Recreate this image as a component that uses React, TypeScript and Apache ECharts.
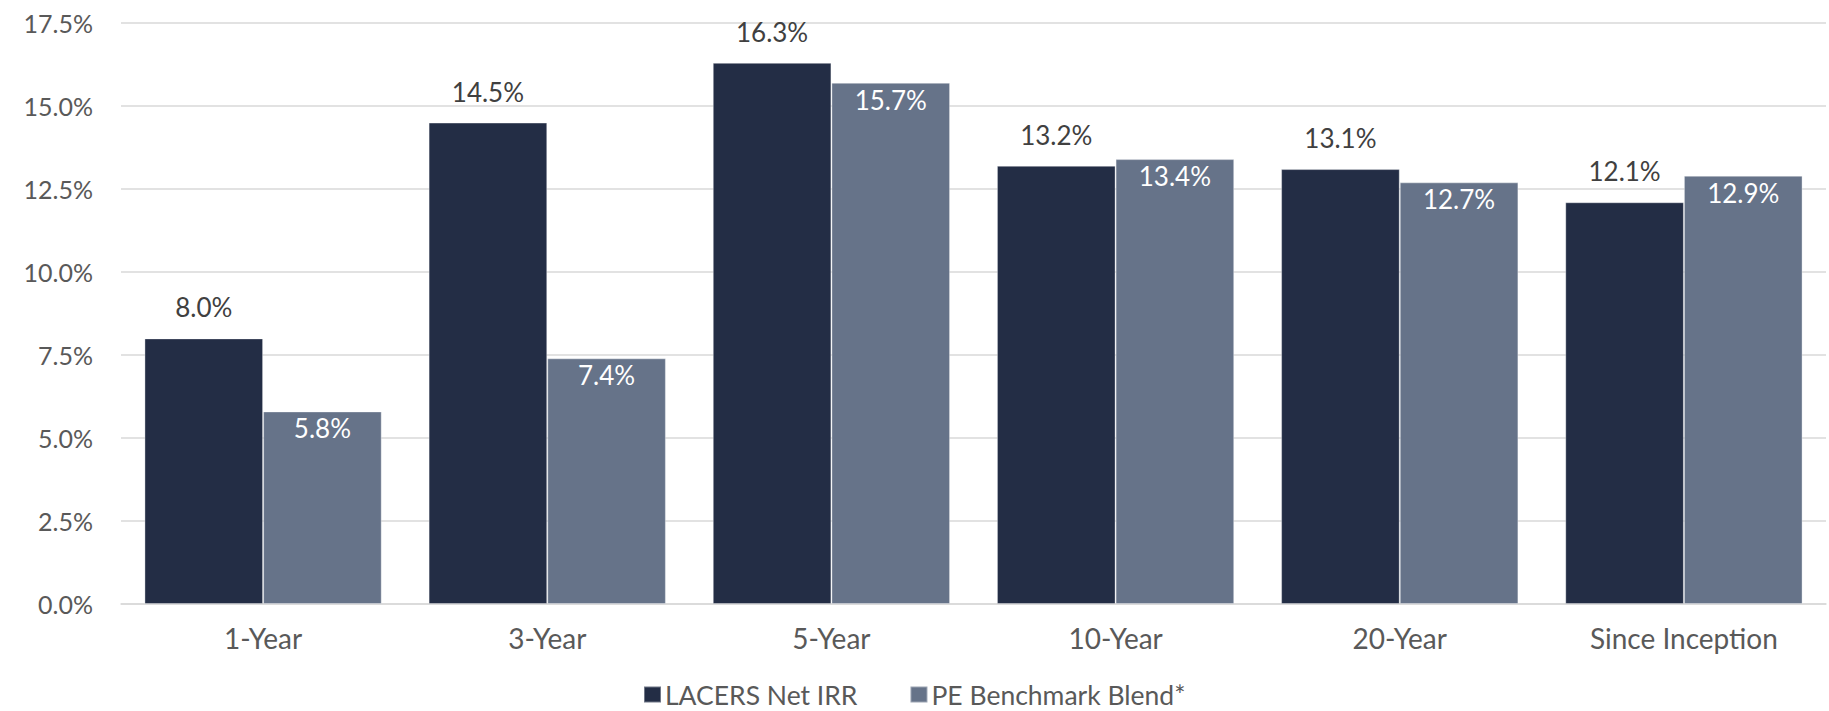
import React, { useEffect, useRef } from "react";
import * as echarts from "echarts";

// Periods along the horizontal axis
const periods = ["1-Year", "3-Year", "5-Year", "10-Year", "20-Year", "Since Inception"];

// Annualized returns, in percent
const lacersNetIrr = [8.0, 14.5, 16.3, 13.2, 13.1, 12.1];
const peBenchmarkBlend = [5.8, 7.4, 15.7, 13.4, 12.7, 12.9];

const seriesNames = ["LACERS Net IRR", "PE Benchmark Blend*"];

const FONT = "Lato, 'Open Sans', sans-serif";
const DARK = "#232d45";
const SLATE = "#667389";

const pct = (v: number) => `${v.toFixed(1)}%`;

export default function App() {
  const ref = useRef<HTMLDivElement>(null);

  useEffect(() => {
    document.body.style.margin = "0";
    if (!ref.current) return;
    const chart = echarts.init(ref.current, undefined, { renderer: "svg" });
    chart.setOption({
      animation: false,
      backgroundColor: "#ffffff",
      textStyle: { fontFamily: FONT },
      grid: { left: 121, right: 3, top: 23, bottom: 107, containLabel: false },
      legend: {
        left: 643,
        top: 681,
        padding: 0,
        icon: "rect",
        itemWidth: 17,
        itemHeight: 16,
        itemGap: 52,
        textStyle: { fontFamily: FONT, fontSize: 26.5, lineHeight: 26, color: "#595959", padding: [0, 0, 0, -1] },
        data: seriesNames,
      },
      xAxis: {
        type: "category",
        data: periods,
        axisTick: { show: false },
        axisLine: { lineStyle: { color: "#d9d9d9", width: 1.5 } },
        axisLabel: { fontFamily: FONT, fontSize: 28, color: "#595959", margin: 20 },
      },
      yAxis: {
        type: "value",
        min: 0,
        max: 17.5,
        interval: 2.5,
        axisLine: { show: false },
        axisTick: { show: false },
        splitLine: { lineStyle: { color: "#d9d9d9", width: 1.5 } },
        axisLabel: {
          fontFamily: FONT,
          fontSize: 25,
          color: "#595959",
          margin: 28,
          formatter: (v: number) => pct(v),
        },
      },
      series: [
        {
          name: seriesNames[0],
          type: "bar",
          data: lacersNetIrr,
          barGap: "0%",
          barCategoryGap: "16.5%",
          itemStyle: { color: DARK, borderColor: "rgba(255,255,255,0.35)", borderWidth: 1 },
          label: {
            show: true,
            position: "top",
            distance: 18,
            fontFamily: FONT,
            fontSize: 26,
            color: "#404040",
            formatter: (p: any) => pct(p.value),
          },
        },
        {
          name: seriesNames[1],
          type: "bar",
          data: peBenchmarkBlend,
          barGap: "0%",
          barCategoryGap: "16.5%",
          itemStyle: { color: SLATE, borderColor: "rgba(255,255,255,0.35)", borderWidth: 1 },
          label: {
            show: true,
            position: "insideTop",
            distance: 4,
            fontFamily: FONT,
            fontSize: 26,
            color: "#ffffff",
            formatter: (p: any) => pct(p.value),
          },
        },
      ],
    });
    return () => chart.dispose();
  }, []);

  return <div ref={ref} style={{ width: 1829, height: 711 }} />;
}
